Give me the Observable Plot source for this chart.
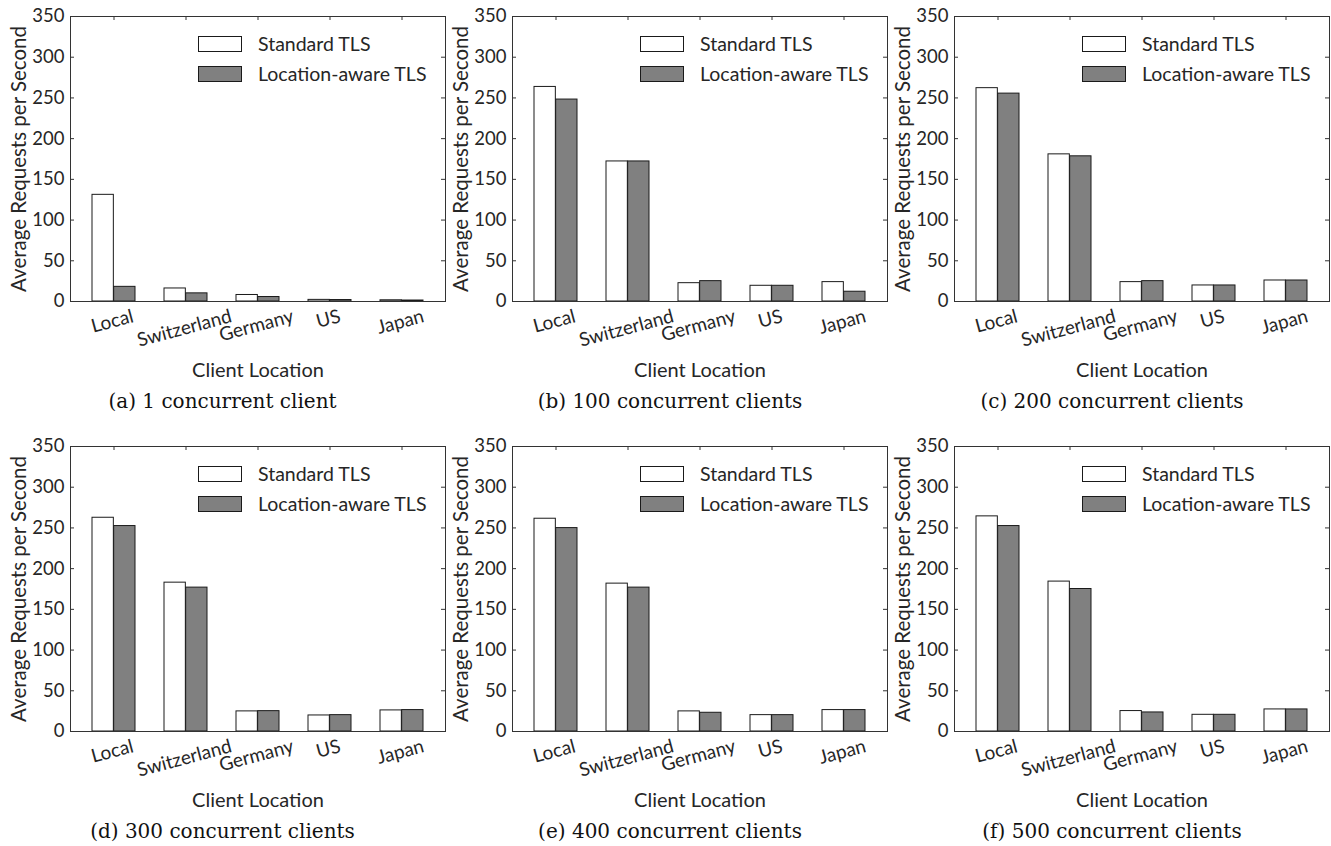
<!DOCTYPE html>
<html>
<head>
<meta charset="utf-8">
<script src="https://cdn.jsdelivr.net/npm/d3@7"></script>
<script src="https://cdn.jsdelivr.net/npm/@observablehq/plot@0.6"></script>
<style>
  html, body { margin: 0; padding: 0; background: #fff; }
  body { width: 1331px; height: 846px; position: relative; overflow: hidden; font-family: Lato, sans-serif; }
  .panel { position: absolute; }
  .cap { position: absolute; font-family: "DejaVu Serif", serif; font-size: 20px; color: #111; white-space: nowrap; transform: translateX(-50%); line-height: 1; }
  .sw { position: absolute; width: 42px; height: 14px; border: 1px solid #1a1a1a; }
  .lt { position: absolute; font-family: Lato, sans-serif; font-size: 19.5px; color: #262626; white-space: nowrap; line-height: 1; transform: translateY(-50%); }
</style>
</head>
<body>
<script>
const categories = ["Local", "Switzerland", "Germany", "US", "Japan"];
const seriesNames = ["Standard TLS", "Location-aware TLS"];
const captions = [
  "(a) 1 concurrent client",
  "(b) 100 concurrent clients",
  "(c) 200 concurrent clients",
  "(d) 300 concurrent clients",
  "(e) 400 concurrent clients",
  "(f) 500 concurrent clients"
];
const standard1   = [131, 16, 8, 2, 1.5];
const aware1      = [18, 10, 5.5, 1.8, 1.2];
const standard100 = [263.5, 172, 22.5, 19.3, 23.8];
const aware100    = [248, 172, 25, 19.3, 12];
const standard200 = [262, 180.7, 23.8, 19.7, 25.8];
const aware200    = [255.3, 178.3, 25, 19.7, 25.8];
const standard300 = [262.5, 182.8, 24.7, 19.7, 25.9];
const aware300    = [252.3, 176.7, 25, 20.1, 26.3];
const standard400 = [261.3, 181.6, 24.7, 20.1, 26.3];
const aware400    = [249.8, 176.7, 23, 20.1, 26.3];
const standard500 = [264.2, 184.1, 25.1, 20.5, 27.1];
const aware500    = [252.3, 175, 23.4, 20.5, 27.1];
const yTicks = [0, 50, 100, 150, 200, 250, 300, 350];
const yLabel = "Average Requests per Second";
const xLabel = "Client Location";

const panelsData = [
  [standard1, aware1], [standard100, aware100], [standard200, aware200],
  [standard300, aware300], [standard400, aware400], [standard500, aware500]
];

// layout
const frameLefts = [70, 512, 954];
const frameTops = [16, 446];
const mL = 70, mT = 16, frameW = 375, frameH = 285, mB = 90;
const fontSans = "Lato, sans-serif";
const textColor = "#262626";
const lineColor = "#333";
const rot = -15;
const tickFont = 19;

const band = d3.scaleBand().domain(categories).range([0, frameW]).paddingInner(0.4).paddingOuter(0.297);
const halfBand = band.bandwidth() / 2;

const ctx = document.createElement("canvas").getContext("2d");
ctx.font = tickFont + "px Lato";
function labelDy(t) {
  const w = ctx.measureText(t).width;
  const s = Math.sin(Math.abs(rot) * Math.PI / 180), c = Math.cos(Math.abs(rot) * Math.PI / 180);
  return 13 + (w * s + 15 * c) / 2;
}

panelsData.forEach(([std, awr], idx) => {
  const col = idx % 3, row = Math.floor(idx / 3);
  const left = frameLefts[col] - mL;
  const top = frameTops[row] - mT;
  const mR = col === 2 ? 2 : 6;
  const rows = categories.map((c, i) => ({cat: c, std: std[i], awr: awr[i]}));

  const plot = Plot.plot({
    width: mL + frameW + mR,
    height: mT + frameH + mB,
    marginLeft: mL, marginRight: mR, marginTop: mT, marginBottom: mB,
    style: {fontFamily: fontSans, fontSize: "18px", color: textColor, background: "transparent", overflow: "visible"},
    x: {type: "band", domain: categories, paddingInner: 0.4, paddingOuter: 0.297, axis: null},
    y: {domain: [0, 350], axis: null},
    marks: [
      Plot.barY(rows, {x: "cat", y: "std", fill: "#ffffff", stroke: "#1a1a1a", strokeWidth: 1, insetRight: halfBand}),
      Plot.barY(rows, {x: "cat", y: "awr", fill: "#808080", stroke: "#1a1a1a", strokeWidth: 1, insetLeft: halfBand}),
      Plot.tickY(yTicks, {y: d => d, stroke: lineColor, insetRight: frameW - 4}),
      Plot.tickY(yTicks, {y: d => d, stroke: lineColor, insetLeft: frameW - 4}),
      Plot.tickX(categories, {x: d => d, stroke: lineColor, insetBottom: frameH - 4}),
      Plot.frame({stroke: lineColor, strokeWidth: 1}),
      Plot.text(yTicks, {y: d => d, text: d => String(d), frameAnchor: "left", textAnchor: "end", dx: -6, fill: textColor, fontSize: 18.5}),
      Plot.text([yLabel], {text: d => d, frameAnchor: "left", textAnchor: "middle", dx: -51, rotate: -90, fill: textColor, fontSize: 20.5}),
      ...categories.map(c => Plot.text([c], {x: d => d, text: d => d, frameAnchor: "bottom", textAnchor: "middle", dy: labelDy(c), rotate: rot, fill: textColor, fontSize: tickFont})),
      Plot.text([xLabel], {text: d => d, frameAnchor: "bottom", textAnchor: "middle", dy: 75, fill: textColor, fontSize: 20})
    ]
  });
  const div = document.createElement("div");
  div.className = "panel";
  div.style.left = left + "px";
  div.style.top = top + "px";
  div.appendChild(plot);
  document.body.appendChild(div);

  // legend
  const fl = frameLefts[col], ft = frameTops[row];
  const fills = ["#ffffff", "#808080"];
  seriesNames.forEach((name, k) => {
    const sw = document.createElement("div");
    sw.className = "sw";
    sw.style.background = fills[k];
    sw.style.left = (fl + 128) + "px";
    sw.style.top = (ft + 20 + k * 30) + "px";
    document.body.appendChild(sw);
    const lt = document.createElement("div");
    lt.className = "lt";
    lt.textContent = name;
    lt.style.left = (fl + 188) + "px";
    lt.style.top = (ft + 28 + k * 30) + "px";
    document.body.appendChild(lt);
  });

  // caption
  const capCenters = [222.5, 670, 1112];
  const cap = document.createElement("div");
  cap.className = "cap";
  cap.textContent = captions[idx];
  cap.style.left = capCenters[col] + "px";
  cap.style.top = (ft - 16 + 391) + "px";
  document.body.appendChild(cap);
});
</script>
</body>
</html>
